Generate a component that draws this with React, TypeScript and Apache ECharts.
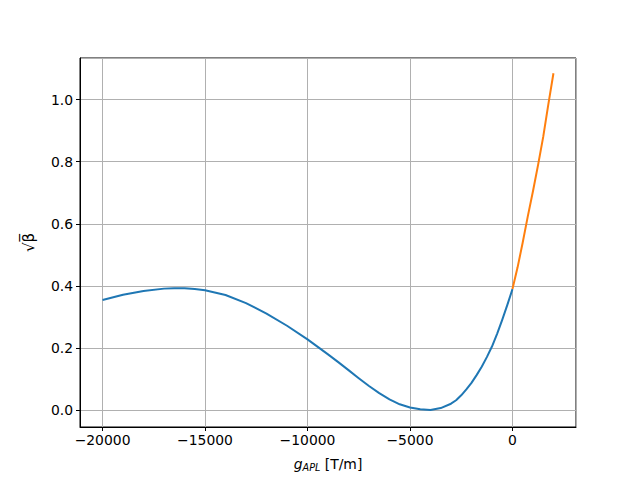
import React, { useEffect, useRef } from "react";
import * as echarts from "echarts";

const blueX = [-20000, -19000, -18000, -17000, -16500, -16000, -15500, -15000, -14000, -13000, -12000, -11000, -10000, -9500, -9000, -8500, -8000, -7500, -7000, -6500, -6000, -5500, -5000, -4500, -4000, -3500, -3000, -2750, -2500, -2250, -2000, -1750, -1500, -1250, -1000, -750, -500, -250, 0];
const blueY = [0.355, 0.372, 0.384, 0.3915, 0.393, 0.3925, 0.39, 0.386, 0.371, 0.345, 0.311, 0.272, 0.228, 0.204, 0.18, 0.155, 0.129, 0.103, 0.078, 0.055, 0.035, 0.019, 0.009, 0.003, 0.001, 0.007, 0.021, 0.032, 0.048, 0.067, 0.088, 0.113, 0.14, 0.171, 0.205, 0.246, 0.291, 0.339, 0.39];
const orangeX = [0, 250, 500, 750, 1000, 1250, 1500, 1750, 2000];
const orangeY = [0.39, 0.46, 0.54, 0.625, 0.705, 0.79, 0.88, 0.985, 1.085];

const xLabel = "{i|g}{s|APL}{n| [T/m]}";
const yLabel = "√β̅";

const FONT = "DejaVu Sans";

function fmtX(v: number) {
  return v < 0 ? "\u2212" + Math.abs(v) : String(v);
}

export default function App() {
  const ref = useRef<HTMLDivElement>(null);
  useEffect(() => {
    const chart = echarts.init(ref.current!, null, { renderer: "svg" });
    const axisCommon = {
      axisLine: { show: true, onZero: false, lineStyle: { color: "#000", width: 1 } },
      axisTick: { show: true, inside: false, length: 4, lineStyle: { color: "#000", width: 1 } },
      splitLine: { show: true, lineStyle: { color: "#b0b0b0", width: 1 } },
    };
    chart.setOption({
      animation: false,
      textStyle: { fontFamily: FONT },
      grid: {
        left: 80,
        right: 64,
        top: 58,
        bottom: 53,
        show: true,
        borderColor: "#000",
        borderWidth: 1,
        containLabel: false,
      },
      xAxis: {
        type: "value",
        min: -21100,
        max: 3100,
        splitNumber: 5,
        ...axisCommon,
        axisLabel: {
          show: true,
          showMinLabel: false,
          showMaxLabel: false,
          margin: 6,
          color: "#000",
          fontSize: 13.9,
          fontFamily: FONT,
          formatter: (v: number) => fmtX(v),
        },
        name: xLabel,
        nameLocation: "middle",
        nameGap: 28,
        nameTextStyle: {
          color: "#000",
          fontFamily: FONT,
          fontSize: 13.9,
          rich: {
            i: { fontSize: 13.9, fontStyle: "italic", fontFamily: FONT, color: "#000" },
            s: { fontSize: 9.7, fontStyle: "italic", fontFamily: FONT, color: "#000", padding: [7, 0, 0, 0] },
            n: { fontSize: 13.9, fontFamily: FONT, color: "#000" },
          },
        },
      },
      yAxis: {
        type: "value",
        min: -0.054,
        max: 1.134,
        splitNumber: 6,
        ...axisCommon,
        axisLabel: {
          show: true,
          showMinLabel: false,
          showMaxLabel: false,
          margin: 7,
          color: "#000",
          fontSize: 13.9,
          fontFamily: FONT,
          formatter: (v: number) => v.toFixed(1),
        },
        name: yLabel,
        nameLocation: "middle",
        nameRotate: 90,
        nameGap: 44,
        nameTextStyle: { color: "#000", fontFamily: FONT, fontSize: 15 },
      },
      series: [
        {
          type: "line",
          data: blueX.map((x, i) => [x, blueY[i]]),
          showSymbol: false,
          smooth: false,
          lineStyle: { color: "#1f77b4", width: 2, join: "round" },
          itemStyle: { color: "#1f77b4" },
        },
        {
          type: "line",
          data: orangeX.map((x, i) => [x, orangeY[i]]),
          showSymbol: false,
          smooth: false,
          lineStyle: { color: "#ff7f0e", width: 2, join: "round" },
          itemStyle: { color: "#ff7f0e" },
        },
      ],
    });
    return () => chart.dispose();
  }, []);
  return (
    <div
      ref={ref}
      style={{ position: "fixed", left: 0, top: 0, width: 640, height: 480, background: "#fff" }}
    />
  );
}
